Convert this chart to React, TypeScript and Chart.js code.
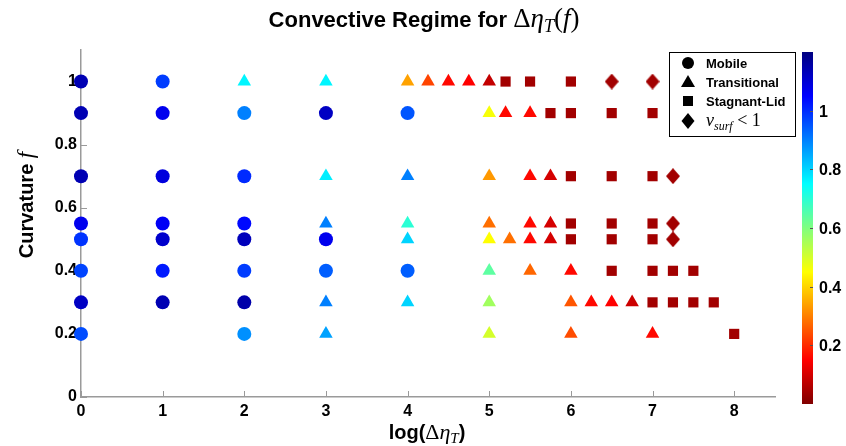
import React, { useEffect, useRef } from "react";
import { Chart, registerables } from "chart.js";

Chart.register(...registerables);

// ---- axis ticks ----
const X_TICKS = [0, 1, 2, 3, 4, 5, 6, 7, 8];
const Y_TICKS = [0, 0.2, 0.4, 0.6, 0.8, 1];
const CB_TICKS = [0.2, 0.4, 0.6, 0.8, 1];
const CB_MIN = 0;
const CB_MAX = 1.2;

// ---- Mobile (circles): log(Δη_T), curvature f, colour value ----
const mobileX = [0, 1, 0, 1, 2, 3, 4, 0, 1, 2, 0, 1, 2, 0, 1, 2, 3, 0, 1, 2, 3, 4, 0, 1, 2, 0, 2];
const mobileF = [1, 1, 0.9, 0.9, 0.9, 0.9, 0.9, 0.7, 0.7, 0.7, 0.55, 0.55, 0.55, 0.5, 0.5, 0.5, 0.5, 0.4, 0.4, 0.4, 0.4, 0.4, 0.3, 0.3, 0.3, 0.2, 0.2];
const mobileV = [1.14, 0.98, 1.14, 1.07, 0.9, 1.12, 0.95, 1.14, 1.09, 1.0, 1.07, 1.06, 1.04, 0.99, 1.11, 1.13, 1.07, 0.97, 1.02, 0.98, 0.94, 0.94, 1.12, 1.14, 1.15, 0.96, 0.88];

// ---- Transitional (triangles) ----
const transX = [2, 3, 4, 4.25, 4.5, 4.75, 5, 5, 5.2, 5.5, 3, 4, 5, 5.5, 5.75, 3, 4, 5, 5.5, 5.75, 4, 5, 5.25, 5.5, 5.75, 5, 5.5, 6, 3, 4, 5, 6, 6.25, 6.5, 6.75, 3, 5, 6, 7];
const transF = [1, 1, 1, 1, 1, 1, 1, 0.9, 0.9, 0.9, 0.7, 0.7, 0.7, 0.7, 0.7, 0.55, 0.55, 0.55, 0.55, 0.55, 0.5, 0.5, 0.5, 0.5, 0.5, 0.4, 0.4, 0.4, 0.3, 0.3, 0.3, 0.3, 0.3, 0.3, 0.3, 0.2, 0.2, 0.2, 0.2];
const transV = [0.76, 0.76, 0.34, 0.23, 0.16, 0.15, 0.08, 0.46, 0.16, 0.16, 0.77, 0.9, 0.33, 0.16, 0.1, 0.9, 0.7, 0.28, 0.16, 0.1, 0.8, 0.45, 0.28, 0.16, 0.1, 0.64, 0.27, 0.16, 0.9, 0.8, 0.56, 0.25, 0.16, 0.15, 0.09, 0.86, 0.5, 0.24, 0.16];

// ---- Stagnant-Lid (squares) ----
const stagX = [5.2, 5.5, 6, 5.75, 6, 6.5, 7, 6, 6.5, 7, 6, 6.5, 7, 6, 6.5, 7, 6.5, 7, 7.25, 7.5, 7, 7.25, 7.5, 7.75, 8];
const stagF = [1, 1, 1, 0.9, 0.9, 0.9, 0.9, 0.7, 0.7, 0.7, 0.55, 0.55, 0.55, 0.5, 0.5, 0.5, 0.4, 0.4, 0.4, 0.4, 0.3, 0.3, 0.3, 0.3, 0.2];
const stagV = [0.04, 0.04, 0.04, 0.04, 0.04, 0.04, 0.04, 0.04, 0.04, 0.04, 0.04, 0.04, 0.04, 0.04, 0.04, 0.04, 0.04, 0.04, 0.04, 0.04, 0.04, 0.04, 0.04, 0.04, 0.04];

// ---- v_surf < 1 (diamonds) ----
const diamX = [6.5, 7, 7.25, 7.25, 7.25];
const diamF = [1, 1, 0.7, 0.55, 0.5];
const diamV = [0.04, 0.04, 0.04, 0.04, 0.04];

const LEGEND_LABELS = ["Mobile", "Transitional", "Stagnant-Lid"];

const SANS = "'Liberation Sans', Arial, sans-serif";
const SERIF = "'Liberation Serif', 'Times New Roman', serif";

function jetRGB(v: number): [number, number, number] {
  const t = Math.min(Math.max((v - CB_MIN) / (CB_MAX - CB_MIN), 0), 1);
  const s = 1 - t; // high values blue, low values red
  const c = (x: number) => Math.round(255 * Math.min(Math.max(x, 0), 1));
  return [c(1.5 - Math.abs(4 * s - 3)), c(1.5 - Math.abs(4 * s - 2)), c(1.5 - Math.abs(4 * s - 1))];
}
function jet(v: number): string {
  const [r, g, b] = jetRGB(v);
  return `rgb(${r},${g},${b})`;
}

function diamondImg(color: string): HTMLCanvasElement {
  const c = document.createElement("canvas");
  c.width = 14;
  c.height = 16;
  const g = c.getContext("2d")!;
  g.fillStyle = color;
  g.beginPath();
  g.moveTo(7, 0);
  g.lineTo(14, 8);
  g.lineTo(7, 16);
  g.lineTo(0, 8);
  g.closePath();
  g.fill();
  return c;
}

type Seg = { t: string; font: string; dy?: number };
function segWidth(ctx: CanvasRenderingContext2D, segs: Seg[]) {
  let w = 0;
  for (const s of segs) {
    ctx.font = s.font;
    w += ctx.measureText(s.t).width;
  }
  return w;
}
function drawSegs(ctx: CanvasRenderingContext2D, segs: Seg[], x: number, y: number, align: "left" | "center") {
  let cx = align === "center" ? x - segWidth(ctx, segs) / 2 : x;
  ctx.textAlign = "left";
  for (const s of segs) {
    ctx.font = s.font;
    ctx.fillText(s.t, cx, y + (s.dy || 0));
    cx += ctx.measureText(s.t).width;
  }
}

const decorPlugin = {
  id: "decor",
  beforeDatasetsDraw(chart: any) {
    const ctx: CanvasRenderingContext2D = chart.ctx;
    const xs = chart.scales.x;
    const ys = chart.scales.y;
    ctx.save();
    ctx.strokeStyle = "#9a9a9a";
    ctx.lineWidth = 1;
    for (const v of Y_TICKS) {
      const py = Math.round(ys.getPixelForValue(v)) + 0.5;
      ctx.beginPath();
      ctx.moveTo(xs.left, py);
      ctx.lineTo(xs.left + 6, py);
      ctx.stroke();
    }
    for (const v of X_TICKS) {
      const px = Math.round(xs.getPixelForValue(v)) + 0.5;
      ctx.beginPath();
      ctx.moveTo(px, ys.bottom);
      ctx.lineTo(px, ys.bottom - 6);
      ctx.stroke();
    }
    ctx.restore();
  },
  afterDraw(chart: any) {
    const ctx: CanvasRenderingContext2D = chart.ctx;
    ctx.save();
    ctx.fillStyle = "#000";
    ctx.textBaseline = "alphabetic";

    // Title
    drawSegs(
      ctx,
      [
        { t: "Convective Regime for ", font: `bold 22px ${SANS}` },
        { t: "Δ", font: `27px ${SERIF}` },
        { t: "η", font: `italic 27px ${SERIF}` },
        { t: "T", font: `italic 18px ${SERIF}`, dy: 5 },
        { t: "(", font: `27px ${SERIF}` },
        { t: "f", font: `italic 27px ${SERIF}` },
        { t: ")", font: `27px ${SERIF}` },
      ],
      424,
      27,
      "center"
    );

    // X axis title
    drawSegs(
      ctx,
      [
        { t: "log(", font: `bold 20px ${SANS}` },
        { t: "Δ", font: `22px ${SERIF}` },
        { t: "η", font: `italic 22px ${SERIF}` },
        { t: "T", font: `italic 15px ${SERIF}`, dy: 4 },
        { t: ")", font: `bold 20px ${SANS}` },
      ],
      427,
      439,
      "center"
    );

    // Y axis title (rotated)
    ctx.save();
    ctx.translate(33, 205);
    ctx.rotate(-Math.PI / 2);
    drawSegs(
      ctx,
      [
        { t: "Curvature ", font: `bold 20px ${SANS}` },
        { t: "f", font: `italic 23px ${SERIF}` },
      ],
      0,
      0,
      "center"
    );
    ctx.restore();

    // Colorbar
    const cbLeft = 802;
    const cbW = 11;
    const cbTop = 52;
    const cbBot = 404;
    const cbY = (v: number) => cbBot - ((v - CB_MIN) / (CB_MAX - CB_MIN)) * (cbBot - cbTop);
    for (let yy = cbTop; yy < cbBot; yy++) {
      const v = CB_MIN + ((cbBot - (yy + 0.5)) / (cbBot - cbTop)) * (CB_MAX - CB_MIN);
      ctx.fillStyle = jet(v);
      ctx.fillRect(cbLeft, yy, cbW, 1);
    }
    ctx.strokeStyle = "#555";
    ctx.lineWidth = 1;
    ctx.fillStyle = "#000";
    ctx.font = `bold 16px ${SANS}`;
    ctx.textBaseline = "middle";
    ctx.textAlign = "left";
    for (const v of CB_TICKS) {
      const py = Math.round(cbY(v)) + 0.5;
      ctx.beginPath();
      ctx.moveTo(cbLeft + cbW - 3, py);
      ctx.lineTo(cbLeft + cbW, py);
      ctx.stroke();
      ctx.fillText(String(v), cbLeft + cbW + 6, py + 1);
    }

    // Legend
    const lx = 669.5;
    const ly = 52.5;
    ctx.fillStyle = "#fff";
    ctx.fillRect(lx, ly, 126, 84);
    ctx.strokeStyle = "#000";
    ctx.lineWidth = 1;
    ctx.strokeRect(lx, ly, 126, 84);
    ctx.fillStyle = "#000";
    const mx = 688;
    const rows = [63, 82, 101, 121];
    ctx.beginPath();
    ctx.arc(mx, rows[0], 6, 0, Math.PI * 2);
    ctx.fill();
    ctx.beginPath();
    ctx.moveTo(mx, rows[1] - 7);
    ctx.lineTo(mx + 7, rows[1] + 5);
    ctx.lineTo(mx - 7, rows[1] + 5);
    ctx.closePath();
    ctx.fill();
    ctx.fillRect(mx - 5, rows[2] - 5, 10, 10);
    ctx.beginPath();
    ctx.moveTo(mx, rows[3] - 8);
    ctx.lineTo(mx + 6.5, rows[3]);
    ctx.lineTo(mx, rows[3] + 8);
    ctx.lineTo(mx - 6.5, rows[3]);
    ctx.closePath();
    ctx.fill();
    ctx.font = `bold 13px ${SANS}`;
    ctx.textBaseline = "middle";
    LEGEND_LABELS.forEach((s, i) => ctx.fillText(s, 706, rows[i] + 1));
    ctx.textBaseline = "alphabetic";
    drawSegs(
      ctx,
      [
        { t: "v", font: `italic 18px ${SERIF}` },
        { t: "surf", font: `italic 12px ${SERIF}`, dy: 4 },
        { t: " < 1", font: `18px ${SERIF}` },
      ],
      706,
      rows[3] + 5,
      "left"
    );

    ctx.restore();
  },
};

export default function App() {
  const ref = useRef<HTMLCanvasElement | null>(null);

  useEffect(() => {
    if (!ref.current) return;
    const mk = (xs: number[], fs: number[]) => xs.map((x, i) => ({ x, y: fs[i] }));
    const chart = new Chart(ref.current, {
      type: "scatter",
      data: {
        datasets: [
          {
            label: "Mobile",
            data: mk(mobileX, mobileF),
            pointStyle: "circle",
            pointRadius: 7,
            pointHoverRadius: 7,
            pointBackgroundColor: mobileV.map(jet),
            pointBorderWidth: 0,
            clip: false,
          } as any,
          {
            label: "Transitional",
            data: mk(transX, transF),
            pointStyle: "triangle",
            pointRadius: 7.8,
            pointHoverRadius: 7.8,
            pointBackgroundColor: transV.map(jet),
            pointBorderWidth: 0,
            clip: false,
          } as any,
          {
            label: "Stagnant-Lid",
            data: mk(stagX, stagF),
            pointStyle: "rect",
            pointRadius: 7.2,
            pointHoverRadius: 7.2,
            pointBackgroundColor: stagV.map(jet),
            pointBorderWidth: 0,
            clip: false,
          } as any,
          {
            label: "v_surf < 1",
            data: mk(diamX, diamF),
            pointStyle: diamV.map((v) => diamondImg(jet(v))),
            pointRadius: 8,
            pointHoverRadius: 8,
            pointBackgroundColor: diamV.map(jet),
            pointBorderWidth: 0,
            clip: false,
          } as any,
        ],
      },
      options: {
        animation: false,
        responsive: false,
        events: [],
        layout: { padding: { left: 0, top: 50, right: 71, bottom: 0 } },
        plugins: {
          legend: { display: false },
          title: { display: false },
          tooltip: { enabled: false },
        },
        scales: {
          x: {
            type: "linear",
            min: 0,
            max: 8.5,
            afterBuildTicks: (s: any) => {
              s.ticks = X_TICKS.map((v) => ({ value: v }));
            },
            afterFit: (s: any) => {
              s.height = 49;
            },
            grid: { display: false, drawTicks: false },
            border: { display: true, color: "#9a9a9a", width: 1.5 },
            ticks: {
              color: "#000",
              padding: 5,
              maxRotation: 0,
              callback: (v: any) => String(v),
              font: { family: SANS, size: 16, weight: "bold" },
            },
          },
          y: {
            type: "linear",
            min: 0,
            max: 1.1,
            afterBuildTicks: (s: any) => {
              s.ticks = Y_TICKS.map((v) => ({ value: v }));
            },
            afterFit: (s: any) => {
              s.width = 81;
            },
            grid: { display: false, drawTicks: false },
            border: { display: true, color: "#9a9a9a", width: 1.5 },
            ticks: {
              color: "#000",
              padding: 4,
              callback: (v: any) => String(v),
              font: { family: SANS, size: 16, weight: "bold" },
            },
          },
        },
      } as any,
      plugins: [decorPlugin as any],
    });
    return () => chart.destroy();
  }, []);

  return (
    <div style={{ position: "fixed", left: 0, top: 0, width: 846, height: 446, background: "#fff" }}>
      <canvas ref={ref} width={846} height={446} style={{ display: "block", width: 846, height: 446 }} />
    </div>
  );
}
